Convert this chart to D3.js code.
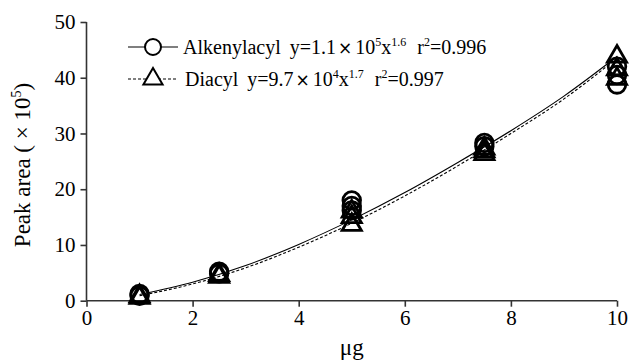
<!doctype html>
<html>
<head>
<meta charset="utf-8">
<title>Peak area vs amount</title>
<script src="https://cdn.jsdelivr.net/npm/d3@7"></script>
<style>
  body { margin: 0; background: #fff; }
  svg text { font-family: "Liberation Serif", "Times New Roman", serif; fill: #000; }
</style>
</head>
<body>
<div id="chart"></div>
<script>
// amounts injected (ug)
var xLevels = [1, 2.5, 5, 7.5, 10];

// replicate peak areas (x 10^5)
var alkenylX = [1, 1, 2.5, 2.5, 5, 5, 5, 7.5, 7.5, 10, 10, 10];
var alkenylY = [1.2, 0.9, 5.2, 4.9, 18.0, 17.0, 16.2, 28.3, 27.7, 42.0, 40.5, 38.8];
var diacylX = [1, 1, 2.5, 2.5, 5, 5, 5, 7.5, 7.5, 7.5, 10, 10, 10];
var diacylY = [0.8, 0.5, 4.6, 4.3, 16.0, 15.0, 13.6, 27.3, 26.8, 26.3, 43.8, 41.5, 39.8];

// fitted curves
var fitX = [1, 2, 3, 4, 5, 6, 7, 8, 9, 10];
var fitAlkenyl = [1.1, 3.3, 6.3, 10.1, 14.5, 19.4, 24.8, 30.5, 36.7, 43.8];
var fitDiacyl = [0.9, 3.0, 5.9, 9.6, 13.9, 18.8, 24.2, 30.0, 36.2, 43.5];

var xTicks = [0, 2, 4, 6, 8, 10];
var yTicks = [0, 10, 20, 30, 40, 50];

var width = 629, height = 360;
var svg = d3.select("#chart").append("svg")
    .attr("width", width)
    .attr("height", height);

var x = d3.scaleLinear().domain([0, 10]).range([86.5, 617]);
var y = d3.scaleLinear().domain([0, 50]).range([300.7, 22]);

// axes
var xAxis = svg.append("g")
    .attr("transform", "translate(0," + y(0) + ")")
    .call(d3.axisBottom(x).tickValues(xTicks).tickSize(6).tickPadding(3).tickFormat(d3.format("d")));
var yAxis = svg.append("g")
    .attr("transform", "translate(" + x(0) + ",0)")
    .call(d3.axisLeft(y).tickValues(yTicks).tickSize(6).tickPadding(5).tickFormat(d3.format("d")));

[xAxis, yAxis].forEach(function (a) {
    a.attr("font-family", null).attr("font-size", null);
    a.select(".domain").attr("stroke", "#333").attr("stroke-width", 1.6);
    a.selectAll(".tick line").attr("stroke", "#333").attr("stroke-width", 1.6);
    a.selectAll(".tick text")
        .style("font-size", "21px")
        .attr("fill", "#000");
});
xAxis.selectAll(".domain").attr("d", "M" + x(0) + ",0H" + x(10));
yAxis.selectAll(".domain").attr("d", "M0," + y(0) + "V" + y(50));

// axis titles
svg.append("text")
    .attr("x", (x(0) + x(10)) / 2)
    .attr("y", 355)
    .attr("text-anchor", "middle")
    .style("font-size", "23px")
    .text("μg");

var yl = svg.append("text")
    .attr("transform", "translate(30," + 165 + ") rotate(-90)")
    .attr("text-anchor", "middle")
    .style("font-size", "23px");
yl.append("tspan").text("Peak area ( × 10");
yl.append("tspan").attr("dy", -9).style("font-size", "14px").text("5");
yl.append("tspan").attr("dy", 9).text(")");

// fitted curves
var line = d3.line()
    .x(function (d) { return x(d[0]); })
    .y(function (d) { return y(d[1]); })
    .curve(d3.curveMonotoneX);

svg.append("path")
    .datum(d3.zip(fitX, fitAlkenyl))
    .attr("d", line)
    .attr("fill", "none")
    .attr("stroke", "#000")
    .attr("stroke-width", 1.1);

svg.append("path")
    .datum(d3.zip(fitX, fitDiacyl))
    .attr("d", line)
    .attr("fill", "none")
    .attr("stroke", "#000")
    .attr("stroke-width", 1.1)
    .attr("stroke-dasharray", "3,2");

// markers
var tri = d3.symbol().type(d3.symbolTriangle).size(160);

svg.append("g").selectAll("circle")
    .data(d3.zip(alkenylX, alkenylY))
    .enter().append("circle")
    .attr("cx", function (d) { return x(d[0]); })
    .attr("cy", function (d) { return y(d[1]); })
    .attr("r", 8.8)
    .attr("fill", "none")
    .attr("stroke", "#000")
    .attr("stroke-width", 2.8);

svg.append("g").selectAll("path")
    .data(d3.zip(diacylX, diacylY))
    .enter().append("path")
    .attr("d", tri)
    .attr("transform", function (d) { return "translate(" + x(d[0]) + "," + y(d[1]) + ")"; })
    .attr("fill", "none")
    .attr("stroke", "#000")
    .attr("stroke-width", 2.8);

// legend
var leg = svg.append("g");
leg.append("line").attr("x1", 128).attr("x2", 178).attr("y1", 47).attr("y2", 47)
    .attr("stroke", "#000").attr("stroke-width", 1.1);
leg.append("circle").attr("cx", 153).attr("cy", 47).attr("r", 8)
    .attr("fill", "#fff").attr("stroke", "#000").attr("stroke-width", 2);
leg.append("line").attr("x1", 128).attr("x2", 178).attr("y1", 79).attr("y2", 79)
    .attr("stroke", "#000").attr("stroke-width", 1.1).attr("stroke-dasharray", "3,2");
leg.append("path").attr("d", tri).attr("transform", "translate(153,79)")
    .attr("fill", "#fff").attr("stroke", "#000").attr("stroke-width", 2);

function legendText(yPos, xPos, name, coef, exp10, expX, r2) {
    var t = leg.append("text").attr("x", xPos).attr("y", yPos).style("font-size", "20px");
    t.append("tspan").text(name);
    t.append("tspan").attr("dx", 9).text("y=" + coef);
    t.append("tspan").attr("dx", 2).style("font-family", "DejaVu Sans, sans-serif").style("font-size", "17px").text("×");
    t.append("tspan").attr("dx", 3).text("10");
    t.append("tspan").attr("dy", -8).style("font-size", "12px").text(exp10);
    t.append("tspan").attr("dy", 8).text("x");
    t.append("tspan").attr("dy", -8).style("font-size", "12px").text(expX);
    t.append("tspan").attr("dy", 8).attr("dx", 11).text("r");
    t.append("tspan").attr("dy", -8).style("font-size", "12px").text("2");
    t.append("tspan").attr("dy", 8).text("=" + r2);
}
legendText(54, 183, "Alkenylacyl", "1.1", "5", "1.6", "0.996");
legendText(86, 185, "Diacyl", "9.7", "4", "1.7", "0.997");
</script>
</body>
</html>
